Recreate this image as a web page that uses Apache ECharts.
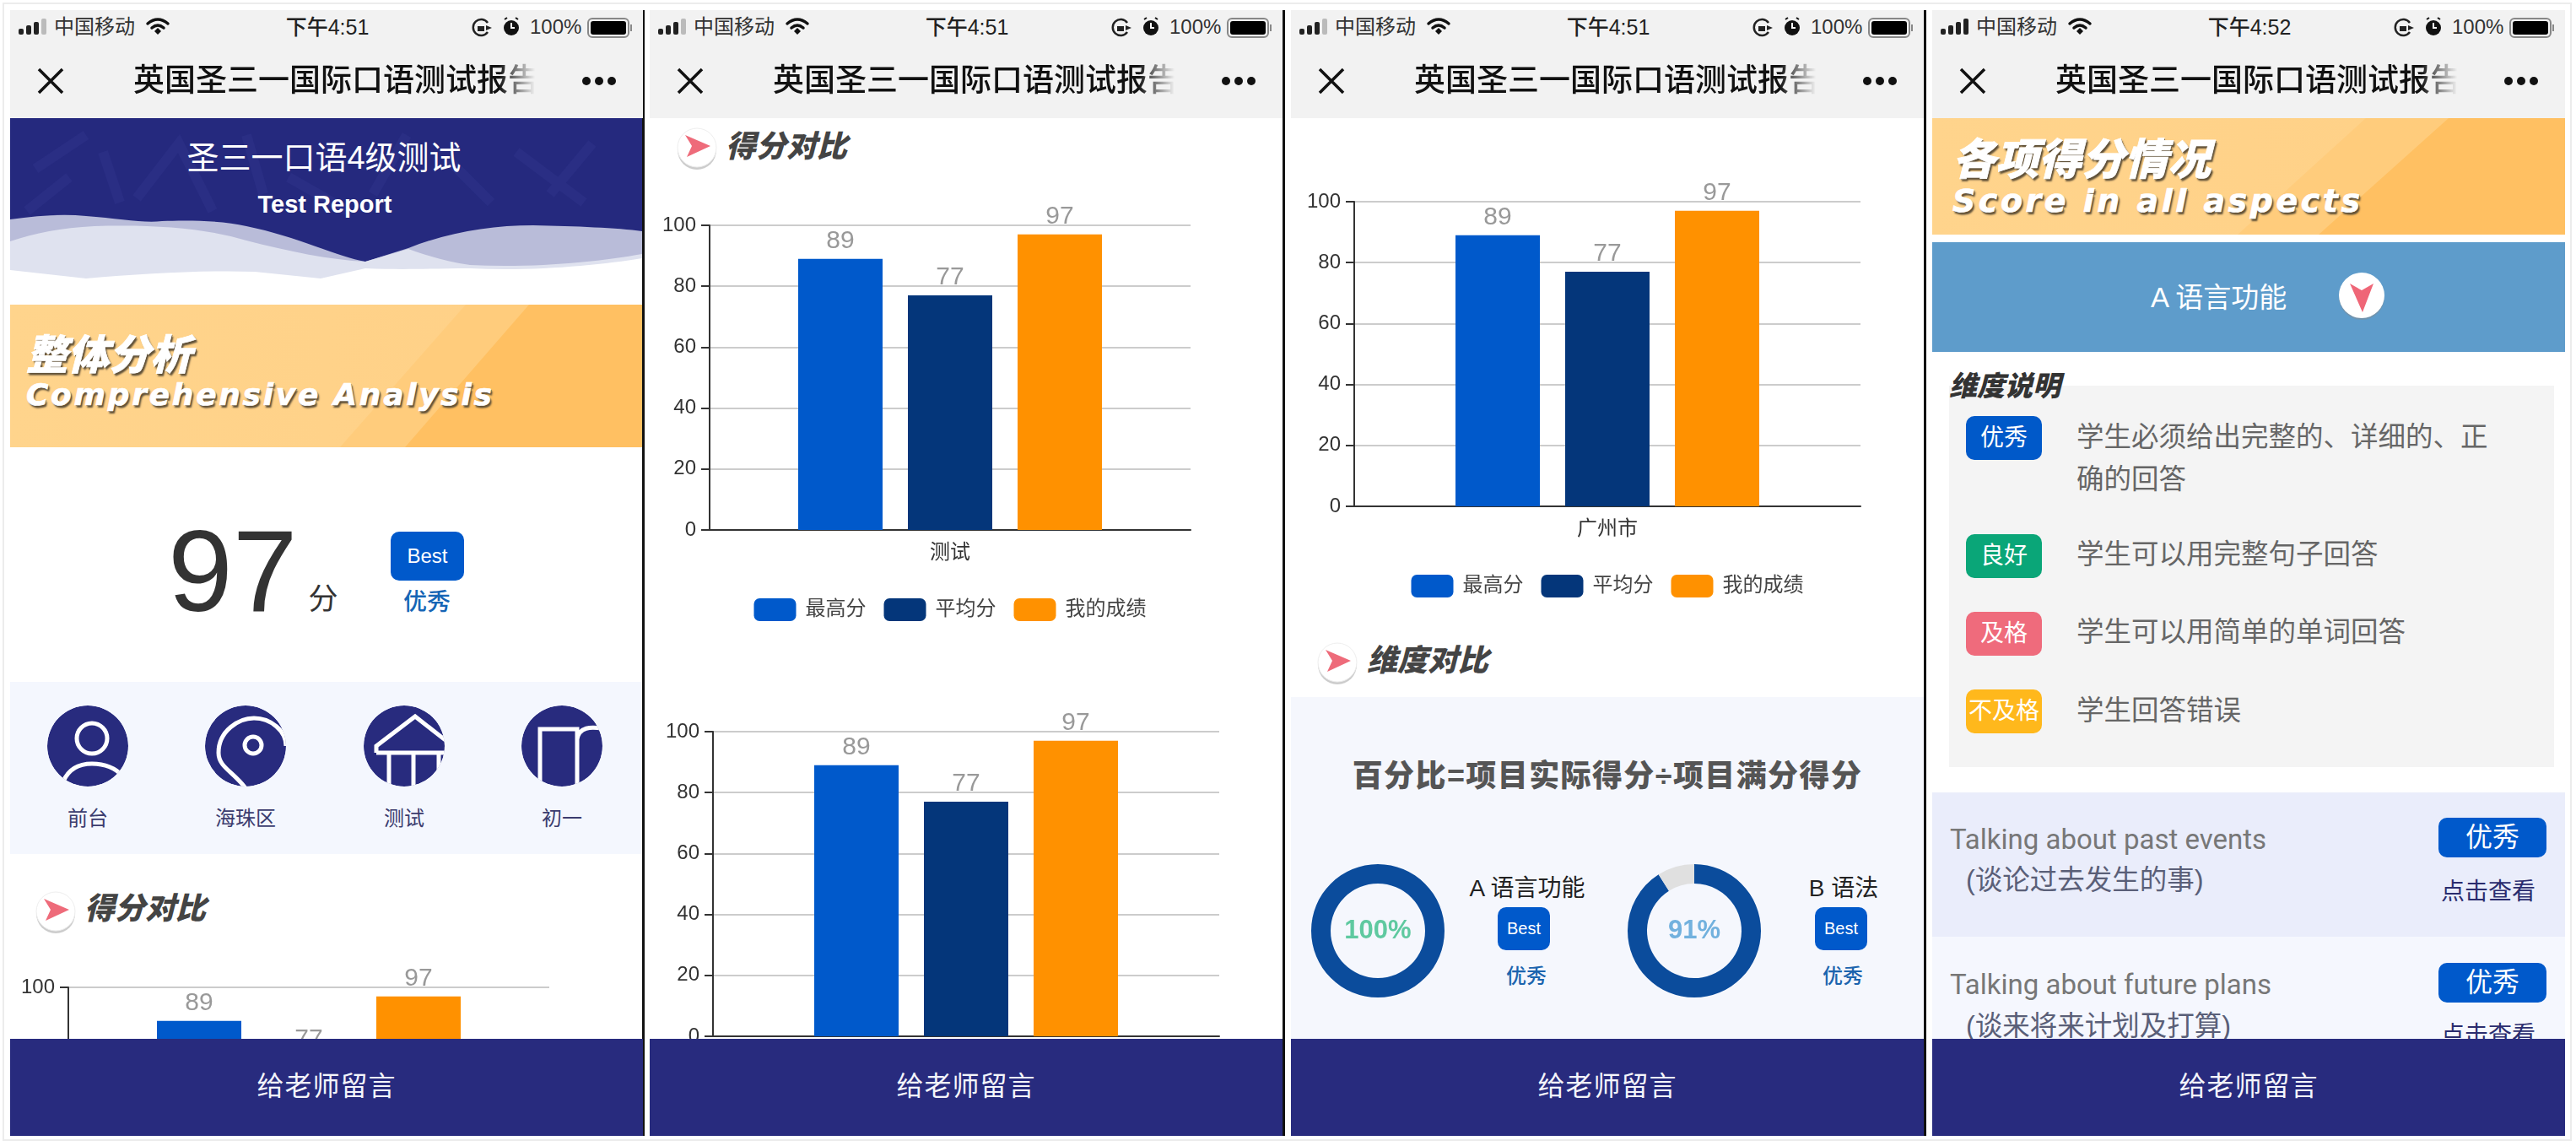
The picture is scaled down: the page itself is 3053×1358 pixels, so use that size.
<!DOCTYPE html>
<html>
<head>
<meta charset="utf-8">
<script src="https://cdn.jsdelivr.net/npm/echarts@6/dist/echarts.min.js"></script>
<style>
html,body{margin:0;padding:0;background:#fff;}
body{width:3053px;height:1358px;position:relative;overflow:hidden;font-family:"Liberation Sans","Noto Sans CJK SC",sans-serif;}
.frame{position:absolute;left:3px;top:3px;width:3045px;height:1349px;border:2px solid #ececec;box-sizing:border-box;}
.panel{position:absolute;top:0;height:1346px;width:750px;overflow:hidden;}
.divider{position:absolute;top:12px;height:1334px;width:3px;background:#111;}
.t{position:absolute;white-space:nowrap;line-height:1;transform:translateY(-50%);}
.c{transform:translate(-50%,-50%);}
.box{position:absolute;}
.nav{position:absolute;left:0;top:12px;width:100%;height:128px;background:#f2f2f2;z-index:5;}
.foot{position:absolute;left:0;top:1231px;width:100%;height:115px;background:#282b7e;z-index:5;color:#f4f5fb;font-size:32px;line-height:113px;text-align:center;letter-spacing:1px;}
.orange{position:absolute;left:0;width:100%;background:linear-gradient(90deg,#ffd48c,#ffd086);overflow:hidden;}
.orange i{position:absolute;left:0;top:0;width:100%;height:100%;}
.hd{color:#fff;font-weight:900;font-style:italic;-webkit-text-stroke:.7px #fff;text-shadow:2px 3px 2px #5f5038,1px 1px 0 #7a6a50;}
.sec{color:#444;font-weight:900;font-style:italic;}
.badge{position:absolute;color:#fff;text-align:center;border-radius:10px;}
.lv{position:absolute;left:40px;width:90px;height:52px;line-height:52px;font-size:28px;color:#fff;text-align:center;border-radius:10px;}
.desc{font-size:32.5px;color:#666;}
.en{font-family:Roboto,"Noto Sans CJK SC";font-size:33px;color:#777;}
.chart{position:absolute;z-index:1;}
svg{position:absolute;overflow:visible;}
</style>
</head>
<body>
<div class="frame"></div>

<!-- 第一屏 -->
<div class="panel" id="p0" style="left:12px;">
	<svg width="749" height="221" style="left:0;top:140px;" viewBox="0 0 749 221">
		<rect width="749" height="221" fill="#25297e"/>
		<g fill="none" stroke="#2a2e84" stroke-width="12">
			<path d="M30 60 L90 20 M150 95 L200 30 L240 110 M330 70 L400 110 M470 20 L430 90 M600 40 L680 100 M690 30 L640 90 M20 110 L70 70 M110 40 L130 100 M520 50 L570 100 M280 20 L300 90"/>
		</g>
		<path d="M0 120 C30 116 60 113 90 116 C130 119 160 125 180 122 C210 121 250 121 280 128 C340 140 390 165 421 170 L472 154 C520 135 570 127 620 127 C670 128 720 130 749 134 L749 221 L0 221Z" fill="#b9bcd9"/>
		<path d="M0 146 C30 136 60 130 100 128 C170 126 230 130 280 145 C330 158 380 168 421 170 L472 155 C500 165 520 170 545 174 C620 178 700 170 749 161 L749 221 L0 221Z" fill="#dfe2ef"/>
		<path d="M0 180 L90 190 C160 184 230 180 290 182 L368 190 L421 178 C470 180 500 178 545 178 C620 182 700 174 749 166 L749 221 L0 221Z" fill="#fff"/>
	</svg>
	<div class="t c" style="left:372px;top:187px;font-size:38px;color:#fff;">圣三一口语4级测试</div>
	<div class="t c" style="left:373px;top:242px;font-size:29px;font-weight:700;color:#fff;">Test Report</div>

	<div class="orange" style="top:361px;height:169px;">
		<i style="background:#ffcc7c;clip-path:polygon(391px 100%,540px 0,100% 0,100% 100%);"></i>
		<i style="background:#ffc062;clip-path:polygon(468px 100%,615px 0,100% 0,100% 100%);"></i>
		<div class="t hd" style="left:19px;top:60px;font-size:49px;">整体分析</div>
		<div class="t hd" style="left:19px;top:107px;font-size:36px;font-family:'DejaVu Sans';letter-spacing:2.7px;">Comprehensive Analysis</div>
	</div>

	<div class="t" style="left:187px;top:676px;font-size:138px;color:#333;">97</div>
	<div class="t c" style="left:371px;top:709px;font-size:35px;color:#333;">分</div>
	<div class="badge" style="left:451px;top:630px;width:87px;height:58px;line-height:58px;font-size:24px;background:#0059cb;">Best</div>
	<div class="t c" style="left:494px;top:714px;font-size:28px;font-weight:500;color:#1565b5;">优秀</div>

	<div class="box" style="left:0;top:808px;width:100%;height:204px;background:#f4f7fe;"></div>
	<svg width="749" height="100" style="left:0;top:836px;" viewBox="0 0 749 100" fill="none" stroke="#fff" stroke-width="5">
		<defs>
			<clipPath id="cc"><circle cx="0" cy="0" r="48"/></clipPath>
		</defs>
		<g transform="translate(92,48)" clip-path="url(#cc)">
			<circle r="48" fill="#282b7e" stroke="none"/>
			<circle cx="5" cy="-9" r="18"/>
			<path d="M-29 42 Q-20 21 5 21 Q28 21 42 36"/>
		</g>
		<g transform="translate(279,48)" clip-path="url(#cc)">
			<circle r="48" fill="#282b7e" stroke="none"/>
			<circle cx="9" cy="-1" r="10"/>
			<path d="M0 50 C-15 30 -32 25 -32 8 C-32 -18 -8 -33 10 -33 C30 -33 48 -18 48 0"/>
		</g>
		<g transform="translate(467,48)" clip-path="url(#cc)">
			<circle r="48" fill="#282b7e" stroke="none"/>
			<path d="M-33 8 L-33 0 L13 -35 L50 -6 M-33 8 L50 8 M-18 8 V50 M11 8 V50 M41 8 V50"/>
		</g>
		<g transform="translate(654,48)" clip-path="url(#cc)">
			<circle r="48" fill="#282b7e" stroke="none"/>
			<path d="M-26 50 V-20 H18 V50 M18 -8 C20 -22 34 -24 50 -20"/>
		</g>
	</svg>
	<div class="t c" style="left:92px;top:970px;font-size:24px;color:#3b3c6e;">前台</div>
	<div class="t c" style="left:279px;top:970px;font-size:24px;color:#3b3c6e;">海珠区</div>
	<div class="t c" style="left:467px;top:970px;font-size:24px;color:#3b3c6e;">测试</div>
	<div class="t c" style="left:654px;top:970px;font-size:24px;color:#3b3c6e;">初一</div>

	<svg class="arrow" width="50" height="50" style="left:54px;top:1080px;"><use href="#secIcon"/></svg>
	<div class="t sec" style="left:88px;top:1077px;font-size:36px;">得分对比</div>
	<div class="chart" id="chart0"></div>
	<div class="foot">给老师留言</div>
</div>
<div class="divider" style="left:761px;"></div>

<!-- 第二屏 -->
<div class="panel" id="p1" style="left:770px;">
	<svg width="50" height="50" style="left:56px;top:175px;"><use href="#secIcon"/></svg>
	<div class="t sec" style="left:90px;top:174px;font-size:36px;">得分对比</div>
	<div class="chart" id="chart1"></div>
	<div class="chart" id="chart2"></div>
	<div class="foot">给老师留言</div>
</div>
<div class="divider" style="left:1520px;"></div>

<!-- 第三屏 -->
<div class="panel" id="p2" style="left:1530px;">
	<div class="chart" id="chart3"></div>
	<svg width="50" height="50" style="left:55px;top:785px;"><use href="#secIcon"/></svg>
	<div class="t sec" style="left:90px;top:783px;font-size:36px;">维度对比</div>
	<div class="box" style="left:0;top:826px;width:100%;height:406px;background:#f5f7fd;"></div>
	<div class="t c" style="left:375px;top:920px;font-size:36px;font-weight:900;color:#555;letter-spacing:1.4px;">百分比=项目实际得分÷项目满分得分</div>
	<div class="chart" id="donuts"></div>
	<div class="t c" style="left:280px;top:1053px;font-size:28px;color:#222;">A 语言功能</div>
	<div class="badge" style="left:245px;top:1075px;width:62px;height:51px;line-height:51px;font-size:20px;background:#0059cb;">Best</div>
	<div class="t c" style="left:279px;top:1157px;font-size:24px;font-weight:500;color:#1b64ae;">优秀</div>
	<div class="t c" style="left:655px;top:1053px;font-size:28px;color:#222;">B 语法</div>
	<div class="badge" style="left:621px;top:1075px;width:62px;height:51px;line-height:51px;font-size:20px;background:#0059cb;">Best</div>
	<div class="t c" style="left:654px;top:1157px;font-size:24px;font-weight:500;color:#1b64ae;">优秀</div>
	<div class="foot">给老师留言</div>
</div>
<div class="divider" style="left:2280px;"></div>

<!-- 第四屏 -->
<div class="panel" id="p3" style="left:2290px;">
	<div class="orange" style="top:140px;height:138px;">
		<i style="background:#ffcc7c;clip-path:polygon(362px 100%,514px 0,100% 0,100% 100%);"></i>
		<i style="background:#ffc062;clip-path:polygon(458px 100%,612px 0,100% 0,100% 100%);"></i>
		<div class="t hd" style="left:24px;top:49px;font-size:51px;">各项得分情况</div>
		<div class="t hd" style="left:24px;top:98px;font-size:38px;font-family:'DejaVu Sans';letter-spacing:3.5px;">Score in all aspects</div>
	</div>
	<div class="box" style="left:0;top:287px;width:100%;height:130px;background:#5e9ccb;"></div>
	<div class="t" style="left:259px;top:352px;font-size:33px;color:#fff;">A 语言功能</div>
	<svg width="60" height="60" style="left:509px;top:350px;">
		<circle cx="0" cy="2" r="27" fill="#8a8a8a" opacity=".45"/>
		<circle cx="0" cy="0" r="27" fill="#fff"/>
		<path d="M-14 -14 L0 -6 L14 -14 L1 20 Z" fill="#ef6677"/>
	</svg>

	<div class="box" style="left:20px;top:457px;width:717px;height:452px;background:#f4f4f4;"></div>
	<div class="t sec" style="left:20px;top:457px;font-size:33px;color:#333;">维度说明</div>
	<div class="lv" style="top:493px;background:#0059c9;">优秀</div>
	<div class="t desc" style="left:171px;top:518px;">学生必须给出完整的、详细的、正</div>
	<div class="t desc" style="left:171px;top:568px;">确的回答</div>
	<div class="lv" style="top:633px;background:#0aa678;">良好</div>
	<div class="t desc" style="left:171px;top:657px;">学生可以用完整句子回答</div>
	<div class="lv" style="top:725px;background:#ef6b7c;">及格</div>
	<div class="t desc" style="left:171px;top:749px;">学生可以用简单的单词回答</div>
	<div class="lv" style="top:817px;background:#ffb81c;">不及格</div>
	<div class="t desc" style="left:171px;top:842px;">学生回答错误</div>

	<div class="box" style="left:0;top:939px;width:100%;height:171px;background:#eaedfb;"></div>
	<div class="box" style="left:0;top:1110px;width:100%;height:122px;background:#f5f7fe;"></div>
	<div class="t en" style="left:21px;top:994px;">Talking about past events</div>
	<div class="t desc" style="left:40px;top:1043px;color:#5a5f78;">(谈论过去发生的事)</div>
	<div class="badge" style="left:600px;top:969px;width:128px;height:47px;line-height:47px;font-size:32px;background:#0059cb;">优秀</div>
	<div class="t c" style="left:659px;top:1057px;font-size:28px;color:#2a2c6e;">点击查看</div>
	<div class="t en" style="left:21px;top:1166px;">Talking about future plans</div>
	<div class="t desc" style="left:40px;top:1216px;color:#5a5f78;">(谈来将来计划及打算)</div>
	<div class="badge" style="left:600px;top:1141px;width:128px;height:47px;line-height:47px;font-size:32px;background:#0059cb;">优秀</div>
	<div class="t c" style="left:659px;top:1227px;font-size:28px;color:#2a2c6e;">点击查看</div>
	<div class="foot">给老师留言</div>
</div>

<svg width="0" height="0" style="left:0;top:0;">
	<defs>
		<g id="secIcon">
			<circle cx="0" cy="3" r="23" fill="#999" opacity=".5"/>
			<circle cx="0" cy="0" r="23" fill="#fff" stroke="#eee"/>
			<path d="M-14 -15 L16 -2 L-12 11 L-6 -2 Z" fill="#ee6b7a"/>
		</g>
	</defs>
</svg>

<script type="text/javascript">
	var seriesNames = ['最高分','平均分','我的成绩'];
	var highScores = [89];
	var avgScores = [77];
	var myScores = [97];
	var chartCategories = ['测试','测试','测试','广州市'];
	var seriesColors = ['#0059cb','#04367a','#ff9100'];
	var statusTimes = ['下午4:51','下午4:51','下午4:51','下午4:52'];
	var donutNames = ['A 语言功能','B 语法'];
	var donutScores = [100,91];
	var donutTextColors = ['#5fc9a0','#72b1de'];

	//每屏的状态栏和标题栏
	function fn_nav(index){
		var last = index === 3 ? '#222' : '#bbb';
		var html = '<div class="nav">'
			+'<svg width="750" height="128" style="left:0;top:0;" viewBox="0 12 750 128">'
			+'<rect x="10" y="34" width="6" height="7" rx="2" fill="#222"/><rect x="19" y="30" width="6" height="11" rx="2" fill="#222"/>'
			+'<rect x="28" y="26" width="6" height="15" rx="2" fill="#222"/><rect x="37" y="22" width="6" height="19" rx="2" fill="'+last+'"/>'
			+'<g fill="none" stroke="#111" stroke-width="3.5" stroke-linecap="round"><path d="M163 28 Q175 18 187 28"/><path d="M168 33 Q175 27 182 33"/></g>'
			+'<path d="M171 37 L175 33 L179 37 L175 41 Z" fill="#111"/>'
			+'<g fill="none" stroke="#222" stroke-width="2.5"><path d="M566 27 A9.5 9.5 0 1 0 566 38"/></g><path d="M564 30 L571 33 L564 36Z" fill="#222"/><rect x="554" y="31" width="8" height="6" fill="#222"/>'
			+'<circle cx="594" cy="33" r="9" fill="#111"/><path d="M594 27 V33 H598" stroke="#fff" stroke-width="2" fill="none"/><path d="M586 23 L589 21 M602 23 L599 21" stroke="#111" stroke-width="2"/>'
			+'<rect x="685" y="22" width="48" height="22" rx="5" fill="none" stroke="#888" stroke-width="2"/><rect x="688" y="25" width="42" height="16" rx="3" fill="#000"/><rect x="735" y="29" width="2" height="8" fill="#888"/>'
			+'<path d="M34 82 L62 110 M62 82 L34 110" stroke="#111" stroke-width="3.5"/>'
			+'<circle cx="683" cy="96" r="5" fill="#111"/><circle cx="698" cy="96" r="5" fill="#111"/><circle cx="713" cy="96" r="5" fill="#111"/>'
			+'</svg>'
			+'<div class="t" style="left:52px;top:20px;font-size:24px;color:#333;">中国移动</div>'
			+'<div class="t c" style="left:376px;top:20px;font-size:25px;font-weight:500;color:#222;">'+statusTimes[index]+'</div>'
			+'<div class="t" style="left:616px;top:20px;font-size:24px;color:#333;">100%</div>'
			+'<div class="t" style="left:146px;top:84px;font-size:37px;font-weight:500;color:#111;width:481px;overflow:hidden;line-height:44px;-webkit-mask-image:linear-gradient(to right,#000 90%,transparent 99%);">英国圣三一国际口语测试报告</div>'
			+'</div>';
		document.getElementById('p'+index).insertAdjacentHTML('beforeend',html);
	}

	//柱状图
	function fn_bar(id,category,set){
		var elem = document.getElementById(id);
		var gridTop = 40;
		elem.style.left = '0px';
		elem.style.top = (set.y100-gridTop)+'px';
		elem.style.width = (set.left*2+set.width)+'px';
		elem.style.height = '540px';
		var textFont = '"Liberation Sans","Noto Sans CJK SC"';
		var values = [highScores,avgScores,myScores];
		var chart = echarts.init(elem);
		chart.setOption({
			animation:false,
			legend:{
				data:seriesNames,
				left:'center',
				top:gridTop+456-14,
				padding:0,
				itemWidth:50,
				itemHeight:27,
				itemGap:21,
				icon:'roundRect',
				textStyle:{color:'#444',fontSize:24,fontFamily:textFont,padding:[0,0,0,6]}
			},
			grid:{left:set.left,top:gridTop,width:set.width,height:361,outerBoundsMode:'none'},
			xAxis:{
				type:'category',
				data:[category],
				axisLine:{lineStyle:{color:'#333',width:2}},
				axisTick:{length:9,lineStyle:{color:'#333',width:2}},
				axisLabel:{color:'#333',fontSize:24,margin:15,fontFamily:textFont}
			},
			yAxis:{
				type:'value',
				min:0,
				max:100,
				interval:20,
				axisLine:{show:true,lineStyle:{color:'#333',width:2}},
				axisTick:{show:true,length:10,lineStyle:{color:'#333',width:2}},
				axisLabel:{color:'#333',fontSize:24,margin:16,fontFamily:textFont},
				splitLine:{lineStyle:{color:'#ccc',width:2}}
			},
			series:seriesNames.map(function(name,i){
				return {
					name:name,
					type:'bar',
					barWidth:100,
					barGap:'30%',
					itemStyle:{color:seriesColors[i]},
					label:{show:true,position:'top',distance:6,color:'#999',fontSize:30,fontFamily:textFont},
					data:values[i]
				};
			})
		});
	}

	//维度环形图
	function fn_donuts(){
		var elem = document.getElementById('donuts');
		elem.style.left = '0px';
		elem.style.top = '1000px';
		elem.style.width = '750px';
		elem.style.height = '210px';
		var centers = [103,478];
		var chart = echarts.init(elem);
		chart.setOption({
			animation:false,
			series:donutScores.map(function(score,i){
				return {
					name:donutNames[i],
					type:'pie',
					silent:true,
					center:[centers[i],103],
					radius:[56,79],
					startAngle:90,
					labelLine:{show:false},
					data:[
						{value:score,itemStyle:{color:'#0b4c9c'},
							label:{show:true,position:'center',formatter:score+'%',color:donutTextColors[i],fontSize:31,fontWeight:'bold',fontFamily:'"Liberation Sans"'}},
						{value:100-score,itemStyle:{color:'#e0e0e0'},label:{show:false}}
					]
				};
			})
		});
	}

	[0,1,2,3].forEach(fn_nav);
	fn_bar('chart0',chartCategories[0],{left:69,width:570,y100:1170});
	fn_bar('chart1',chartCategories[1],{left:71,width:570,y100:267});
	fn_bar('chart2',chartCategories[2],{left:75,width:600,y100:867});
	fn_bar('chart3',chartCategories[3],{left:75,width:600,y100:239});
	fn_donuts();
</script>
</body>
</html>
